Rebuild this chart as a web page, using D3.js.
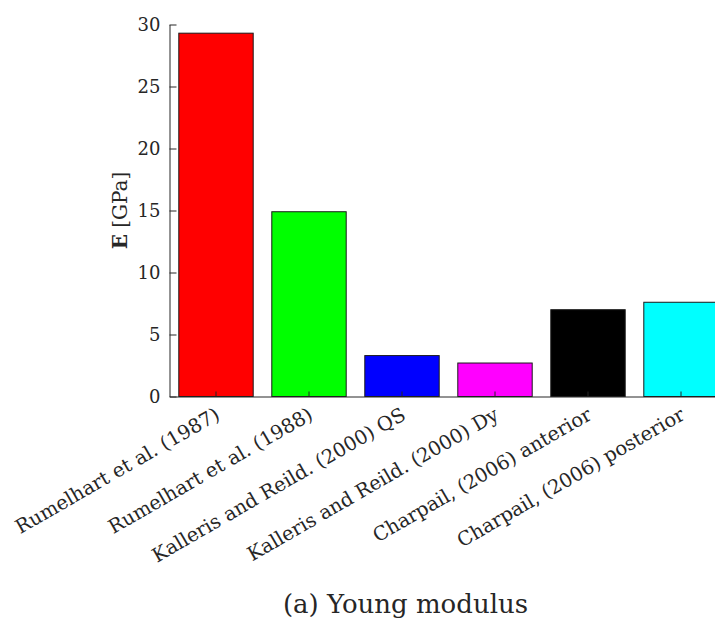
<!DOCTYPE html>
<html lang="en">
  <head>
    <meta charset="UTF-8" />
    <title>Young modulus</title>
    <style>
      body { margin: 0; background: #fff; }
      text { font-family: "DejaVu Serif", serif; fill: #262626; }
      .axis path, .axis line { stroke: #262626; stroke-width: 1px; }
      .bar { stroke: #1a1a1a; stroke-width: 1px; }
    </style>
  </head>
  <body>
    <script src="https://cdn.jsdelivr.net/npm/d3@7"></script>
    <script>

      // Data
      var studies = [
        "Rumelhart et al. (1987)",
        "Rumelhart et al. (1988)",
        "Kalleris and Reild. (2000) QS",
        "Kalleris and Reild. (2000) Dy",
        "Charpail, (2006) anterior",
        "Charpail, (2006) posterior"
      ];
      var modulus = [29.3, 14.9, 3.3, 2.7, 7.0, 7.6];
      var barColors = ["#ff0000", "#00ff00", "#0000ff", "#ff00ff", "#000000", "#00ffff"];
      var yTicks = [0, 5, 10, 15, 20, 25, 30];

      var w = 715, h = 624;
      var margin = { top: 24.5, left: 169.5, bottom: 227.5 };
      var plotH = h - margin.top - margin.bottom;

      var svg = d3.select("body").append("svg")
        .attr("width", w)
        .attr("height", h);

      // Scales
      var xScale = d3.scaleBand()
        .domain(studies)
        .range([0, 558])
        .paddingInner(0.2)
        .paddingOuter(0.1);

      var yScale = d3.scaleLinear()
        .domain([0, 30])
        .range([plotH, 0]);

      var g = svg.append("g")
        .attr("transform", "translate(" + margin.left + "," + margin.top + ")");

      // Bars
      g.selectAll(".bar")
        .data(modulus)
        .enter()
        .append("rect")
        .attr("class", "bar")
        .attr("x", function(d, i) { return xScale(studies[i]); })
        .attr("y", function(d) { return yScale(d); })
        .attr("width", xScale.bandwidth())
        .attr("height", function(d) { return plotH - yScale(d); })
        .attr("fill", function(d, i) { return barColors[i]; });

      // Y axis
      var yAxis = d3.axisLeft(yScale)
        .tickValues(yTicks)
        .tickSizeInner(-7)
        .tickSizeOuter(0)
        .tickPadding(9);

      g.append("g")
        .attr("class", "axis")
        .call(yAxis)
        .call(function(s) {
          s.selectAll("text").style("font-size", "18px").attr("fill", "#262626");
        });

      // X axis
      var xAxis = d3.axisBottom(xScale)
        .tickSizeInner(-5)
        .tickSizeOuter(0)
        .tickPadding(0);

      var xg = g.append("g")
        .attr("class", "axis")
        .attr("transform", "translate(0," + plotH + ")")
        .call(xAxis);

      xg.selectAll(".tick line").attr("stroke", "#bbb");

      xg.selectAll("text")
        .style("font-size", "19.5px")
        .attr("fill", "#262626")
        .attr("text-anchor", "end")
        .attr("x", 0)
        .attr("y", 0)
        .attr("dy", 0)
        .attr("transform", "translate(5,22) rotate(-30)");

      // Y label
      var yLabel = svg.append("text")
        .attr("transform", "translate(127," + (margin.top + plotH / 2) + ") rotate(-90)")
        .attr("text-anchor", "middle")
        .style("font-size", "20px");
      yLabel.append("tspan").attr("font-weight", "bold").text("E");
      yLabel.append("tspan").text(" [GPa]");

      // Caption
      svg.append("text")
        .attr("x", 405.5)
        .attr("y", 613)
        .attr("text-anchor", "middle")
        .style("font-size", "26px")
        .text("(a) Young modulus");

    </script>
  </body>
</html>
